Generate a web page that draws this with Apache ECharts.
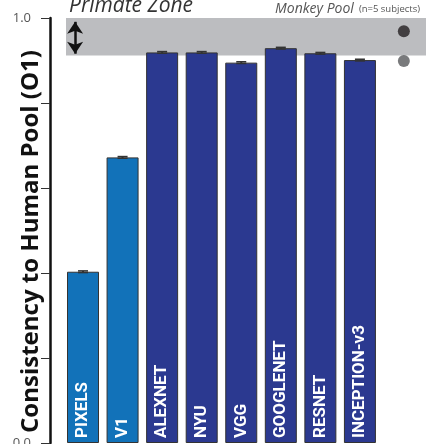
<!DOCTYPE html>
<html><head><meta charset="utf-8">
<script src="https://cdn.jsdelivr.net/npm/echarts@6/dist/echarts.min.js"></script>
<style>html,body{margin:0;padding:0;background:#fff}#c{width:426px;height:444px}</style>
</head><body><div id="c"></div>
<script>
// ---- data ----
const categories = ['PIXELS','V1','ALEXNET','NYU','VGG','GOOGLENET','RESNET','INCEPTION-v3'];
const consistency = [0.403, 0.672, 0.919, 0.919, 0.895, 0.929, 0.917, 0.901];
const errors = [0.002, 0.002, 0.002, 0.002, 0.002, 0.002, 0.002, 0.002];
const modelKind = ['low','low','dcnn','dcnn','dcnn','dcnn','dcnn','dcnn'];
const monkeyPool = [0.969, 0.899];
const primateZone = [0.912, 1.0];
const arrowSpan = [0.991, 0.916];
const yTicks = [0.0, 1.0];

// ---- layout / style ----
const kindColor = {low:'#1272b9', dcnn:'#2b3990'};
const monkeyX = 8.11, arrowX = -0.2;
const chart = echarts.init(document.getElementById('c'));
chart.setOption({
  animation:false,
  grid:{left:66, right:0, top:18, bottom:1, outerBoundsMode:'none', containLabel:false},
  xAxis:{type:'value', min:-0.43, max:8.67, show:false},
  yAxis:{type:'value', min:0, max:1, interval:0.2, offset:16,
    axisLine:{show:true, onZero:false, lineStyle:{color:'#111', width:2.5}},
    axisTick:{show:true, length:9, lineStyle:{color:'#333', width:1}},
    splitLine:{show:false},
    axisLabel:{margin:19, color:'#555', fontSize:13, fontFamily:'Open Sans',
      formatter:v=> yTicks.some(t=>Math.abs(t-v)<1e-9) ? v.toFixed(1) : ''},
    name:'Consistency to Human Pool (O1)', nameLocation:'middle', nameGap:7, nameMoveOverlap:false,
    nameTextStyle:{fontSize:24, fontWeight:'bold', color:'#111', fontFamily:'Open Sans', padding:[0,22,0,0]}
  },
  title:[
    {text:'Primate Zone', left:64, top:-9, textStyle:{fontSize:21, fontStyle:'italic', fontWeight:'normal', color:'#333', fontFamily:'Open Sans'}},
    {text:'{a|Monkey Pool} {b|(n=5 subjects)}', right:1, top:-5,
     textStyle:{fontWeight:'normal', rich:{a:{fontSize:14, fontStyle:'italic', fontWeight:'normal', color:'#555', fontFamily:'Open Sans'}, b:{fontSize:9.5, fontWeight:'normal', color:'#555', fontFamily:'Open Sans'}}}}
  ],
  series:[
    {type:'line', data:[], z:0, silent:true,
     markArea:{silent:true, itemStyle:{color:'#bcbdc0'},
       data:[[{xAxis:'min', yAxis:primateZone[0]},{xAxis:'max', yAxis:primateZone[1]}]]},
     markLine:{silent:true, symbol:['arrow','arrow'], symbolSize:[12,12],
       lineStyle:{color:'#111', width:2.5, type:'solid'}, label:{show:false},
       data:[[{coord:[arrowX, arrowSpan[0]]},{coord:[arrowX, arrowSpan[1]]}]]}
    },
    {type:'bar', z:2, barWidth:32,
     data:categories.map((c,i)=>({value:[i, consistency[i]], itemStyle:{color:kindColor[modelKind[i]]}})),
     itemStyle:{borderColor:'#333', borderWidth:1},
     label:{show:true, position:'insideBottom', rotate:90, distance:5, align:'left', verticalAlign:'middle',
       color:'#fff', fontSize:17, fontWeight:'bold', fontFamily:'Roboto',
       formatter:p=>categories[p.dataIndex]}
    },
    {type:'custom', z:3,
     data:categories.map((c,i)=>[i, consistency[i], errors[i]]),
     renderItem:(params, api)=>{
       const x=api.value(0), v=api.value(1), e=api.value(2);
       const lo=api.coord([x, v-e]), hi=api.coord([x, v+e]);
       const hw=5;
       return {type:'group', children:[
         {type:'line', shape:{x1:lo[0], y1:lo[1], x2:hi[0], y2:hi[1]}, style:{stroke:'#333', lineWidth:2}},
         {type:'line', shape:{x1:hi[0]-hw, y1:hi[1], x2:hi[0]+hw, y2:hi[1]}, style:{stroke:'#333', lineWidth:1.5}},
         {type:'line', shape:{x1:lo[0]-hw, y1:lo[1], x2:lo[0]+hw, y2:lo[1]}, style:{stroke:'#333', lineWidth:1.5}}
       ]};
     }
    },
    {type:'scatter', z:4, symbolSize:12,
     data:[{value:[monkeyX, monkeyPool[0]], itemStyle:{color:'#231f20'}},
           {value:[monkeyX, monkeyPool[1]], itemStyle:{color:'#58595b'}}]
    }
  ]
});
</script></body></html>
